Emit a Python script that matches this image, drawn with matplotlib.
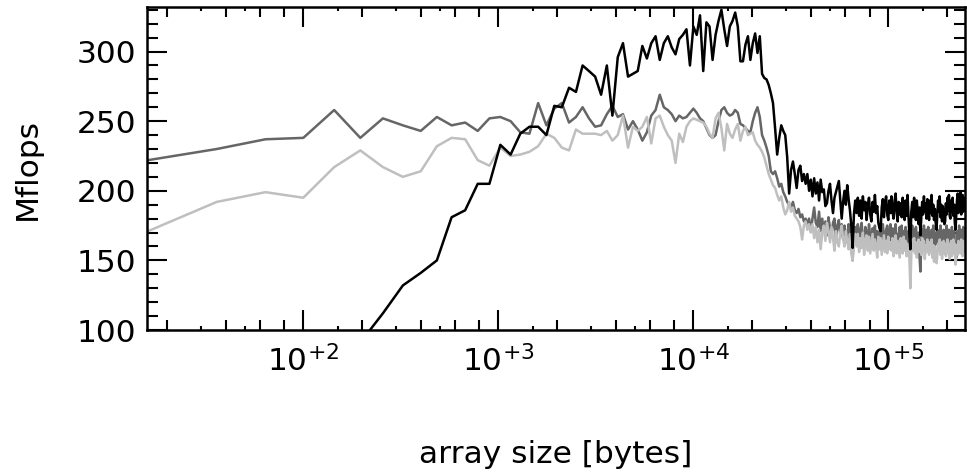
#!/usr/bin/env python3
"""Mflops vs. array size for three kernel variants (log x axis)."""

import matplotlib
matplotlib.use("Agg")
import matplotlib.pyplot as plt
import matplotlib.ticker as mticker
import numpy as np

nan = np.nan

# arrays are n x n single precision -> 4 * n^2 bytes, n = 2 .. 248
n_side = np.arange(2, 249)
array_bytes = 4 * n_side ** 2

# black curve (n = 2..248); first points fall below the plotted range
mflops_black = [
    nan, nan, nan, nan, nan,
    91, 112, 132, 141, 150, 181, 186, 205, 205, 233, 226, 241, 246, 246, 240,
    261, 260, 274, 271, 290, 286, 282, 269, 290, 254, 296, 306, 282, 284, 286,
    304, 295,
    306, 311, 294, 306, 311, 303, 298, 309, 312, 316,
    290, 318, 312, 326, 286, 321, 318, 294, 312, 322,
    330, 316, 304, 318, 322, 328, 318, 293, 293, 305,
    311, 294, 306, 313, 299, 311, 284, 281, 280, 276,
    270, 263, 245, 226, 238, 247, 243, 240, 224, 198,
    215, 221, 212, 202, 215, 218, 207, 212, 205, 212,
    200, 208,
    196, 209, 198, 206, 193, 208, 199, 201, 189, 191,
    200, 205, 193, 184, 195, 199, 203, 207, 193, 180,
    192, 200, 190, 204, 194, 186, 175, 159, 183, 193,
    184, 195, 182, 193, 180, 196, 186, 192, 179, 190,
    195, 183, 178, 192, 185, 197, 184, 189, 177, 173,
    171, 188, 194, 181, 192, 196, 183, 179, 193, 184,
    196, 185, 180, 193, 198, 184, 178, 192, 183, 191,
    181, 195, 186, 179, 193, 182, 197, 183, 168, 158,
    185, 192, 181, 195, 186, 179, 193, 184, 176, 188,
    168, 181, 192, 183, 196, 185, 191, 180, 194, 186,
    179, 193, 184, 197, 182, 190, 179, 187, 177, 172,
    183, 193, 185, 196, 181, 190, 178, 189, 185, 176,
    178, 191, 183, 195, 186, 197, 182, 180, 193, 185,
    195, 182, 190, 177, 172, 183, 193, 198, 184, 196,
    186, 199, 183, 193, 197, 185, 195, 188,
]

# dark grey curve
mflops_dark = [
    222, 230, 237, 238, 258, 238, 252, 247, 243, 253, 247, 249, 243, 252, 253,
    250, 242, 241, 263, 247, 259, 263, 249, 253, 260, 252, 246, 247, 255, 261,
    253, 255, 244, 250, 244, 236, 242, 254,
    258, 269, 260, 258, 255, 250, 254, 252, 253, 256,
    259, 256, 252, 250, 245, 240, 238, 240, 250, 258,
    260, 256, 254, 255, 258, 256, 248, 247, 245, 243,
    242, 250, 256, 260, 253, 240, 236, 231, 225, 214,
    212, 214, 209, 203, 205, 199, 196, 192, 190, 188,
    192, 186, 184, 187, 181, 183, 178, 180, 176, 180,
    171,
    180, 188, 177, 174, 185, 171, 180, 170, 178, 168,
    181, 173, 167, 177, 180, 165, 175, 179, 168, 176,
    165, 175, 168, 163, 176, 170, 162, 150, 170, 174,
    166, 176, 162, 172, 177, 165, 161, 174, 170, 163,
    176, 167, 160, 173, 165, 175, 163, 171, 158, 170,
    173, 163, 176, 167, 161, 172, 175, 163, 169, 176,
    164, 173, 160, 171, 176, 162, 169, 159, 174, 165,
    175, 163, 171, 160, 174, 168, 159, 171, 163, 158,
    170, 175, 161, 172, 163, 174, 166, 157, 170, 152,
    142, 163, 172, 163, 175, 166, 160, 172, 163, 174,
    161, 170, 158, 172, 163, 175, 166, 159, 170, 162,
    172, 163, 157, 170, 175, 161, 168, 158, 172, 163,
    159, 170, 175, 163, 157, 172, 161, 170, 159, 174,
    163, 158, 171, 162, 156, 152, 160, 171, 162, 175,
    164, 158, 172, 166, 160, 174, 163, 170,
]

# light grey curve
mflops_light = [
    171, 192, 199, 195, 217, 229, 217, 210, 214, 232, 238, 237, 222, 218, 231,
    225, 226, 228, 232, 241, 238, 231, 229, 244, 241, 241, 241, 240, 243, 236,
    240, 254, 231, 246, 243, 246, 253,
    234, 252, 254, 246, 240, 236, 220, 241, 235, 246,
    250, 252, 251, 250, 249, 246, 241, 238, 252, 256,
    245, 229, 248, 241, 238, 244, 248, 236, 243, 246,
    240, 241, 242, 236, 233, 231, 228, 224, 218, 212,
    208, 204, 202, 197, 193, 196, 188, 183, 186, 192,
    185, 188, 182, 180, 178, 174, 165, 175, 178, 172,
    176, 170,
    176, 166, 174, 163, 172, 158, 170, 175, 164, 177,
    171, 163, 174, 166, 157, 171, 163, 160, 170, 175,
    166, 160, 171, 164, 158, 169, 155, 150, 162, 169,
    160, 169, 156, 166, 159, 170, 154, 165, 168, 157,
    167, 155, 162, 169, 157, 165, 160, 152, 167, 158,
    166, 154, 161, 168, 156, 164, 155, 167, 158, 163,
    157, 166, 153, 161, 168, 155, 164, 158, 152, 166,
    161, 155, 167, 157, 164, 153, 162, 158, 151, 130,
    154, 165, 157, 166, 155, 163, 152, 160, 165, 156,
    163, 154, 166, 157, 164, 151, 161, 156, 165, 158,
    154, 163, 156, 165, 152, 161, 149, 160, 155, 148,
    153, 162, 157, 165, 154, 163, 151, 160, 164, 155,
    162, 153, 160, 165, 155, 162, 151, 158, 164, 153,
    160, 165, 155, 162, 147, 153, 161, 154, 164, 157,
    162, 155, 165, 159, 153, 164, 156, 162,
]

major_ticks = [1e2, 1e3, 1e4, 1e5]
major_labels = [r"$10^{+2}$", r"$10^{+3}$", r"$10^{+4}$", r"$10^{+5}$"]
decades = [1e1, 1e2, 1e3, 1e4, 1e5]
long_minor = [m * d for d in decades for m in (2, 4, 6, 8)]
short_minor = [m * d for d in decades for m in (1.5, 3, 5)]

plt.rcParams["font.family"] = ["DejaVu Sans"]
plt.rcParams["font.size"] = 22.5
plt.rcParams["mathtext.default"] = "regular"

W, H = 967, 472
fig = plt.figure(figsize=(W / 100, H / 100), dpi=100)
ax = fig.add_axes([147 / W, 1 - 330 / H, (965 - 147) / W, (330 - 7) / H])

ax.plot(array_bytes, mflops_dark, color="#666666", lw=1.8)
ax.plot(array_bytes, mflops_light, color="#bfbfbf", lw=1.8)
ax.plot(array_bytes, mflops_black, color="black", lw=1.8)

ax.set_xscale("log")
ax.set_xlim(15.8, 2.47e5)
ax.set_ylim(100, 332)

ax.xaxis.set_major_locator(mticker.FixedLocator(major_ticks))
ax.xaxis.set_major_formatter(mticker.FixedFormatter(major_labels))
ax.xaxis.set_minor_locator(mticker.FixedLocator(long_minor))
ax.xaxis.set_minor_formatter(mticker.NullFormatter())
ax.yaxis.set_major_locator(mticker.MultipleLocator(50))
ax.yaxis.set_minor_locator(mticker.MultipleLocator(10))

ax.tick_params(which="both", direction="in", top=True, right=True, width=1.5)
ax.tick_params(which="major", length=14.5)
ax.tick_params(axis="x", which="major", pad=11)
ax.tick_params(axis="y", which="major", pad=8)
ax.tick_params(axis="x", which="minor", length=7)
ax.tick_params(axis="y", which="minor", length=8)
for sp in ax.spines.values():
    sp.set_linewidth(1.8)

# third, shorter tick level at 1.5, 3, 5 x 10^n
for side in ("bottom", "top"):
    sec = ax.secondary_xaxis(side)
    sec.xaxis.set_major_locator(mticker.FixedLocator(short_minor))
    sec.xaxis.set_major_formatter(mticker.NullFormatter())
    sec.xaxis.set_minor_locator(mticker.NullLocator())
    sec.tick_params(direction="in", length=3, width=1.5)
    sec.spines[side].set_visible(False)

ax.set_xlabel("array size [bytes]")
ax.xaxis.set_label_coords(0.5, -0.34)
ax.set_ylabel("Mflops")
ax.yaxis.set_label_coords(-0.128, 0.5)

fig.savefig("out.png", dpi=100)
